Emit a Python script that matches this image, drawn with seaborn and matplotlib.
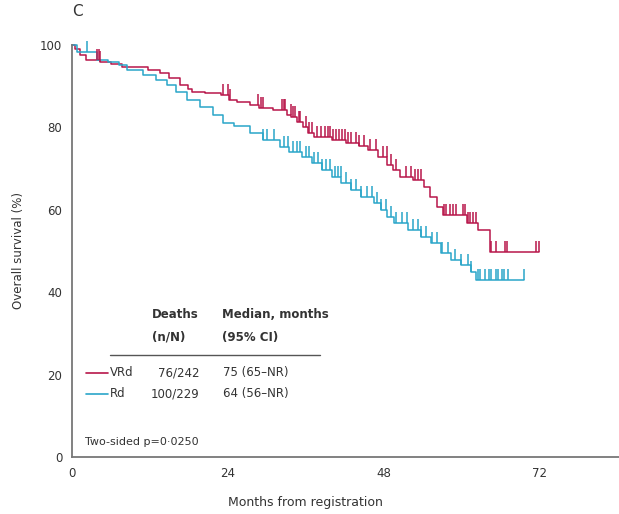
import numpy as np
import pandas as pd
import matplotlib
matplotlib.use("Agg")
import matplotlib.pyplot as plt
import seaborn as sns

# ---- data ----
arms = ["VRd", "Rd"]
vrd_times = [0, 0.5, 1.2, 2.2, 4.3, 6.0, 7.7, 11.7, 13.6, 15.0, 16.7, 17.9, 18.5, 20.5, 23.0,
             24.2, 25.5, 27.5, 28.8, 31.0, 33.2, 33.8, 34.6, 35.6, 36.4, 37.3, 40.1, 42.3, 44.3,
             45.6, 47.1, 48.6, 49.5, 50.6, 52.5, 54.2, 55.2, 56.3, 57.2, 60.8, 62.5, 64.4]
vrd_surv = [100, 99.0, 97.6, 96.4, 95.9, 95.3, 94.7, 93.9, 93.2, 92.0, 90.3, 89.3, 88.6, 88.3, 87.9,
            86.7, 86.2, 85.5, 84.7, 84.2, 83.0, 82.5, 81.3, 80.0, 78.6, 77.7, 76.9, 76.2, 75.5,
            74.5, 72.8, 70.9, 69.7, 68.0, 67.2, 65.5, 63.1, 60.7, 58.7, 56.8, 55.1, 49.8]
vrd_censor = [3.9, 4.1, 4.3, 23.3, 24.1, 24.4, 28.7, 29.2, 29.5, 32.3, 32.6, 32.9, 33.7, 34.0,
              34.3, 35.0, 35.2, 36.0, 36.5, 37.0, 37.8, 38.3, 39.0, 39.4, 39.8, 40.3, 40.7, 41.2,
              41.6, 42.0, 42.5, 43.0, 43.7, 44.3, 45.0, 46.0, 46.8, 47.9, 48.5, 49.2, 49.9, 51.5,
              52.2, 52.9, 53.3, 53.8, 57.3, 57.7, 58.2, 58.7, 59.2, 60.3, 60.6, 61.0, 61.4, 61.8,
              62.3, 64.6, 65.4, 66.8, 67.1, 71.5, 72.0]

rd_times = [0, 0.8, 3.8, 5.5, 7.3, 8.5, 11.0, 13.0, 14.7, 16.0, 17.7, 19.8, 21.8, 23.3, 25.0,
            27.5, 29.4, 32.0, 33.5, 35.5, 37.0, 38.5, 40.0, 41.5, 43.0, 44.5, 46.5, 47.6, 48.6,
            49.6, 51.8, 53.8, 55.3, 56.9, 58.4, 60.0, 61.5, 62.3]
rd_surv = [100, 98.3, 96.4, 95.9, 95.1, 93.9, 92.7, 91.5, 90.3, 88.6, 86.7, 85.0, 83.0, 81.1, 80.3,
           78.6, 76.9, 75.2, 74.0, 72.8, 71.3, 69.7, 68.0, 66.5, 64.8, 63.1, 61.7, 60.0, 58.3,
           56.8, 55.1, 53.4, 51.9, 49.5, 47.8, 46.6, 44.9, 43.0]
rd_censor = [2.3, 29.4, 30.0, 31.2, 32.6, 33.3, 34.0, 34.7, 35.2, 36.0, 36.6, 37.3, 37.9, 38.5,
             39.2, 39.8, 40.5, 41.0, 41.4, 42.2, 43.0, 43.8, 44.6, 45.5, 46.3, 47.0, 47.6, 48.4,
             49.2, 50.0, 50.9, 51.7, 52.5, 53.3, 53.8, 54.6, 55.5, 56.3, 57.0, 58.0, 59.0, 60.0,
             61.0, 61.5, 62.6, 62.9, 63.6, 64.2, 64.5, 65.3, 65.7, 66.2, 66.6, 67.2, 69.7]

table_rows = [("VRd", "76/242", "75 (65\u2013NR)"), ("Rd", "100/229", "64 (56\u2013NR)")]
x_ticks = [0, 24, 48, 72]
y_ticks = [0, 20, 40, 60, 80, 100]

colors = {"VRd": "#b8164a", "Rd": "#2aa6c9"}

# ---- figure ----
sns.set_style("white")
plt.rcParams['font.family'] = ['Liberation Sans Narrow', 'DejaVu Sans']
fig = plt.figure(figsize=(6.19, 5.14), dpi=100)
ax = fig.add_axes([0.1163, 0.1109, 0.8837, 0.8016])

frames = []
for arm, t, s, c in [("VRd", vrd_times, vrd_surv, vrd_censor), ("Rd", rd_times, rd_surv, rd_censor)]:
    tt = list(t) + [max(c)]
    ss = list(s) + [s[-1]]
    frames.append(pd.DataFrame({"time": tt, "surv": ss, "arm": arm}))
df = pd.concat(frames, ignore_index=True)

sns.lineplot(data=df, x="time", y="surv", hue="arm", palette=colors, drawstyle="steps-post",
             estimator=None, sort=False, legend=False, linewidth=1.1, ax=ax)
for line in ax.lines:
    line.set_clip_on(False)

for arm, t, s, c in [("VRd", vrd_times, vrd_surv, vrd_censor), ("Rd", rd_times, rd_surv, rd_censor)]:
    t = np.asarray(t); s = np.asarray(s); c = np.asarray(c)
    idx = np.searchsorted(t, c, side="right") - 1
    ax.plot(c, s[idx], linestyle="none", marker=2, markersize=8, markeredgewidth=1.1,
            color=colors[arm], clip_on=False)

ax.set_xlim(0, 84.3)
ax.set_ylim(0, 100)
ax.set_xticks(x_ticks)
ax.set_yticks(y_ticks)
ax.set_xlabel("Months from registration", fontsize=9, color="#333333")
ax.xaxis.set_label_coords(36 / 84.3, -0.095)
ax.set_ylabel("Overall survival (%)", fontsize=8.5, color="#333333", labelpad=14)
ax.yaxis.set_label_coords(-0.085, 0.5)
ax.tick_params(axis="y", direction="out", length=5, width=1, colors="#777777", labelcolor="#333333",
               labelsize=8.5, pad=2)
ax.tick_params(axis="x", direction="inout", length=8, width=1, colors="#777777", labelcolor="#333333",
               labelsize=8.5, pad=3)
for side in ["top", "right"]:
    ax.spines[side].set_visible(False)
for side in ["left", "bottom"]:
    ax.spines[side].set_color("#777777")
    ax.spines[side].set_linewidth(1.3)

# table / legend
tc = "#333333"
fs = 8.5
ax.text(12.3, 34.5, "Deaths", fontsize=fs, color=tc, va="center", ha="left", fontweight="bold")
ax.text(12.3, 29.1, "(n/N)", fontsize=fs, color=tc, va="center", ha="left", fontweight="bold")
ax.text(23.1, 34.5, "Median, months", fontsize=fs, color=tc, va="center", ha="left", fontweight="bold")
ax.text(23.1, 29.1, "(95% CI)", fontsize=fs, color=tc, va="center", ha="left", fontweight="bold")
ax.plot([5.9, 38.2], [24.8, 24.8], color="#555555", linewidth=1)
row_y = [20.4, 15.3]
for (name, deaths, med), y in zip(table_rows, row_y):
    ax.plot([2.2, 5.6], [y, y], color=colors[name], linewidth=1.2)
    ax.text(5.9, y, name, fontsize=fs, color=tc, va="center", ha="left")
    ax.text(19.7, y, deaths, fontsize=fs, color=tc, va="center", ha="right")
    ax.text(23.3, y, med, fontsize=fs, color=tc, va="center", ha="left")
ax.text(2.0, 3.6, "Two-sided p=0\u00b70250", fontsize=8, color=tc, va="center", ha="left")

fig.text(72 / 619, 1 - 12 / 514, "C", fontsize=11, color="#333333", va="center", ha="left")

fig.savefig("out.png", dpi=100)
